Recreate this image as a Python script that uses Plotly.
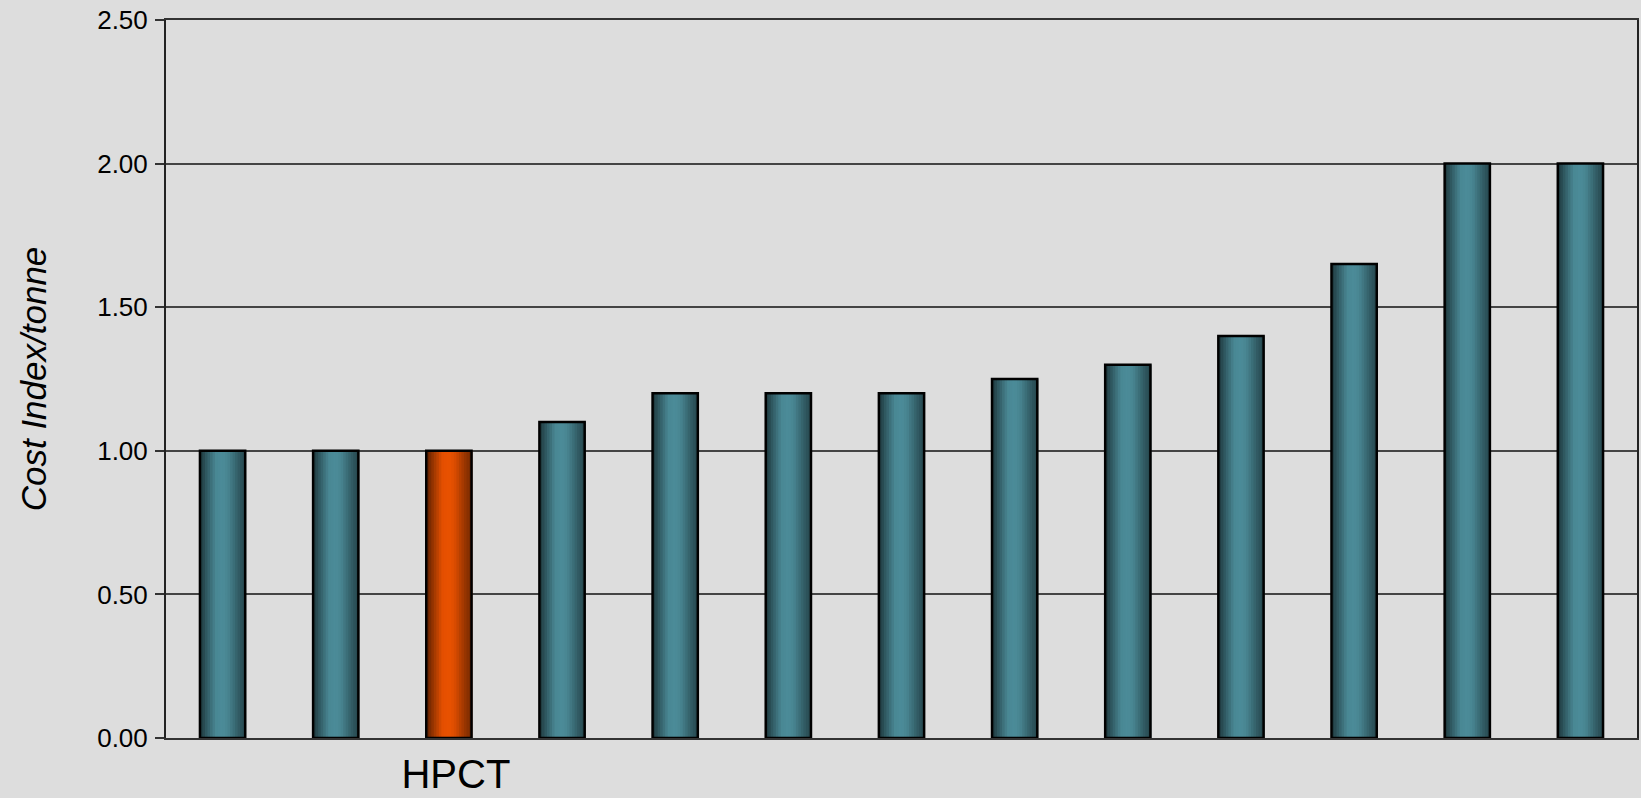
import plotly.graph_objects as go

# ---- data ----
positions = list(range(13))
tick_labels = ["", "", "HPCT", "", "", "", "", "", "", "", "", "", ""]
cost_index = [1.00, 1.00, 1.00, 1.10, 1.20, 1.20, 1.20, 1.25, 1.30, 1.40, 1.65, 2.00, 2.00]
bar_kind = ["peer", "peer", "hpct", "peer", "peer", "peer", "peer", "peer", "peer", "peer", "peer", "peer", "peer"]

# ---- style ----
BG = "#dddddd"
BASE_RGB = {"peer": (76, 140, 153), "hpct": (234, 82, 0)}
BAR_W = 0.4
N_STRIPS = 18
# brightness profile across the bar width (cylinder-like shading)
profile_pts = [(0.0, 0.38), (0.12, 0.60), (0.35, 0.97), (0.5, 1.0), (0.62, 0.95), (0.85, 0.66), (1.0, 0.50)]


def shade(t):
    for (t0, v0), (t1, v1) in zip(profile_pts[:-1], profile_pts[1:]):
        if t0 <= t <= t1:
            return v0 + (v1 - v0) * (t - t0) / (t1 - t0)
    return profile_pts[-1][1]


fig = go.Figure()
strip_w = BAR_W / N_STRIPS
for i in range(N_STRIPS):
    t = (i + 0.5) / N_STRIPS
    s = shade(t)
    cols = []
    for k in bar_kind:
        r, g, b = BASE_RGB[k]
        cols.append(f"rgb({int(r * s)},{int(g * s)},{int(b * s)})")
    fig.add_trace(go.Bar(
        x=positions, y=cost_index,
        width=strip_w * 1.35, offset=-BAR_W / 2 + i * strip_w,
        marker=dict(color=cols, line=dict(width=0)),
        showlegend=False, hoverinfo="skip",
    ))

# outline
fig.add_trace(go.Bar(
    x=positions, y=cost_index, width=BAR_W,
    marker=dict(color="rgba(0,0,0,0)", line=dict(color="#000000", width=2.5)),
    showlegend=False,
))

fig.update_layout(
    barmode="overlay",
    width=1641, height=798,
    margin=dict(l=166, r=4, t=20, b=60, autoexpand=False),
    paper_bgcolor=BG, plot_bgcolor=BG,
    font=dict(family="Liberation Sans, Arial, sans-serif", color="#000000"),
)
fig.update_xaxes(
    range=[-0.5, 12.5], automargin=False,
    tickmode="array", tickvals=positions, ticktext=tick_labels,
    ticks="", tickfont=dict(size=40), ticklabelstandoff=0, ticklabelshift=7,
    showline=True, linecolor="#333333", linewidth=2, mirror=True,
    showgrid=False, zeroline=False,
)
fig.update_yaxes(
    range=[0, 2.5], dtick=0.5, tickformat=".2f", automargin=False,
    tickfont=dict(size=26), ticks="outside", ticklen=9, tickwidth=2, tickcolor="#333333",
    ticklabelstandoff=2,
    showline=True, linecolor="#222222", linewidth=2, mirror=True,
    showgrid=True, gridcolor="#444444", gridwidth=1.5, zeroline=False,
    title=dict(text="<i>Cost Index/tonne</i>", font=dict(size=35), standoff=40),
)

fig.write_html(
    "out.html",
    config={"displayModeBar": False},
    post_script="document.body.style.margin='0';document.body.style.overflow='hidden';",
)
